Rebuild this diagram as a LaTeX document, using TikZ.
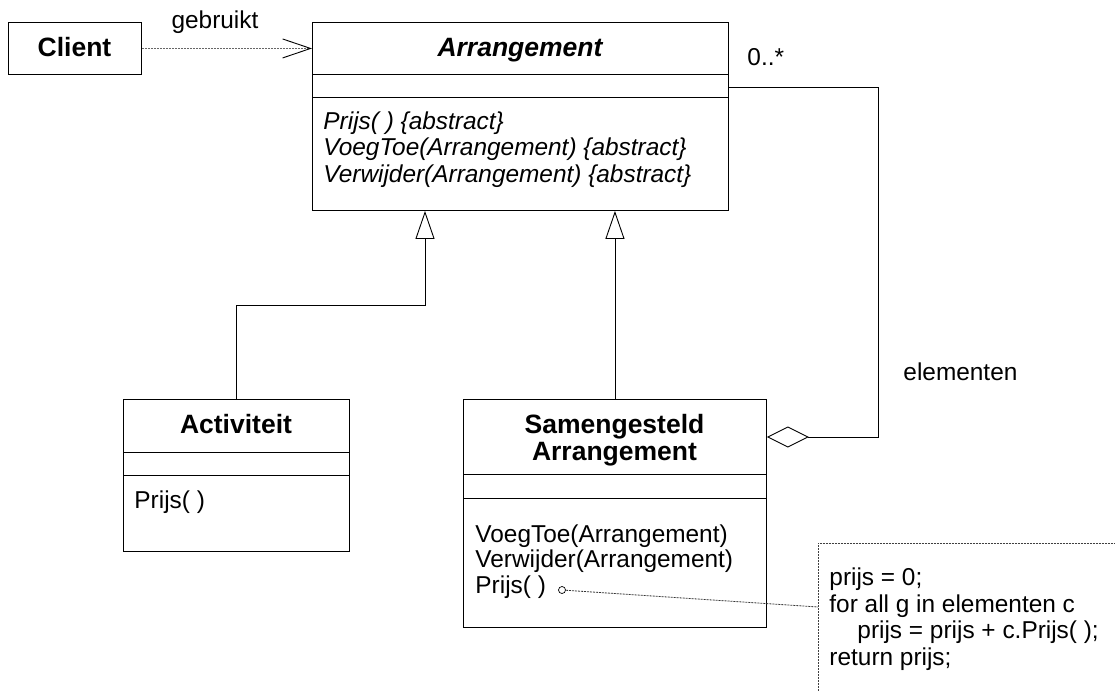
\documentclass[tikz,border=0pt]{standalone}
\usepackage{fontspec}
\setmainfont{Liberation Sans}
\usetikzlibrary{arrows.meta}

\begin{document}
\begin{tikzpicture}[x=1pt, y=-1pt, line width=0.9pt,
  classbox/.style={draw, inner sep=0pt, anchor=north west},
  ctitle/.style={font=\fontsize{26.5}{27}\selectfont\bfseries, anchor=base, inner sep=0pt},
  member/.style={font=\fontsize{24.4}{26}\selectfont, anchor=base west, inner sep=0pt},
  amember/.style={member, font=\fontsize{24.4}{26}\selectfont\itshape},
  lbl/.style={font=\fontsize{24.4}{26}\selectfont, inner sep=0pt},
  dep/.style={draw=black!60, dash pattern=on 2pt off 1pt,
    -{Straight Barb[length=28pt, width=19pt, line width=0.9pt, color=black]}},
  gen/.style={-{Triangle[open, length=28pt, width=19pt, line width=0.9pt]}},
  aggr/.style={{Diamond[open, length=42pt, width=21pt, line width=0.9pt]}-},
  notebox/.style={draw=black!75, line width=0.8pt, dash pattern=on 2pt off 1pt,
    inner sep=0pt, anchor=north west},
  notelink/.style={draw=black!80, line width=0.8pt, dash pattern=on 2pt off 1pt},
  pin/.style={draw, circle, fill=white, inner sep=0pt, minimum size=7pt, line width=0.7pt}
]
\useasboundingbox (0,0) rectangle (1115,690);
\clip (0,0) rectangle (1115,690);

% Client
\node[classbox, minimum width=133pt, minimum height=52pt] (client) at (8,22) {};
\node[ctitle] (clientname) at (74.5,57) {Client};

% Arrangement (abstract)
\node[classbox, minimum width=416pt, minimum height=188pt] (arr) at (312,22) {};
\node[ctitle, font=\fontsize{26.5}{27}\selectfont\bfseries\itshape] (arrname) at (520,57) {Arrangement};
\draw ([yshift=-52pt]arr.north west) -- ([yshift=-52pt]arr.north east);
\draw ([yshift=-75pt]arr.north west) -- ([yshift=-75pt]arr.north east);
\node[amember] (am1) at (323,129) {Prijs( ) \{abstract\}};
\node[amember] (am2) at (323,155.5) {VoegToe(Arrangement) \{abstract\}};
\node[amember] (am3) at (323,182) {Verwijder(Arrangement) \{abstract\}};

% Activiteit
\node[classbox, minimum width=226pt, minimum height=152pt] (act) at (123,399) {};
\node[ctitle] (actname) at (236,433) {Activiteit};
\draw ([yshift=-53pt]act.north west) -- ([yshift=-53pt]act.north east);
\draw ([yshift=-76pt]act.north west) -- ([yshift=-76pt]act.north east);
\node[member] (actm1) at (134,508) {Prijs( )};

% Samengesteld Arrangement
\node[classbox, minimum width=303pt, minimum height=228pt] (sam) at (463,399) {};
\node[ctitle] (samname1) at (614.5,433) {Samengesteld};
\node[ctitle] (samname2) at (614.5,460) {Arrangement};
\draw ([yshift=-75pt]sam.north west) -- ([yshift=-75pt]sam.north east);
\draw ([yshift=-99pt]sam.north west) -- ([yshift=-99pt]sam.north east);
\node[member] (samm1) at (475,542) {VoegToe(Arrangement)};
\node[member] (samm2) at (475,567.5) {Verwijder(Arrangement)};
\node[member] (samm3) at (475,593) {Prijs( )};
\node[pin] (dot) at (562,590) {};

% Note with the implementation of Prijs()
\node[notebox, minimum width=400pt, minimum height=200pt] (note) at (818,543) {};
\node[member] (n1) at (829,585) {prijs = 0;};
\node[member] (n2) at (829,612) {for all g in elementen c};
\node[member] (n3) at (857,638) {prijs = prijs + c.Prijs( );};
\node[member] (n4) at (829,665) {return prijs;};

% Connectors
\draw[dep] (client.east) -- (arr.west |- client.east);
\node[lbl, anchor=base] (uses) at (215,29) {gebruikt};

\coordinate (j1) at (425,305);
\draw[gen] (act.north) |- (j1) -- (j1 |- arr.south);
\draw[gen] (sam.north) -- (sam.north |- arr.south);

\coordinate (a1) at (878,437);
\coordinate (a2) at (878,87);
\draw[aggr] (sam.east |- a1) -- (a1) -- (a2) -- (arr.east |- a2);
\node[lbl, anchor=base west] (mult) at (747,66) {0..*};
\node[lbl, anchor=base west] (role) at (903,380) {elementen};

\draw[notelink] (dot) -- ([yshift=-64pt]note.north west);
\end{tikzpicture}
\end{document}
